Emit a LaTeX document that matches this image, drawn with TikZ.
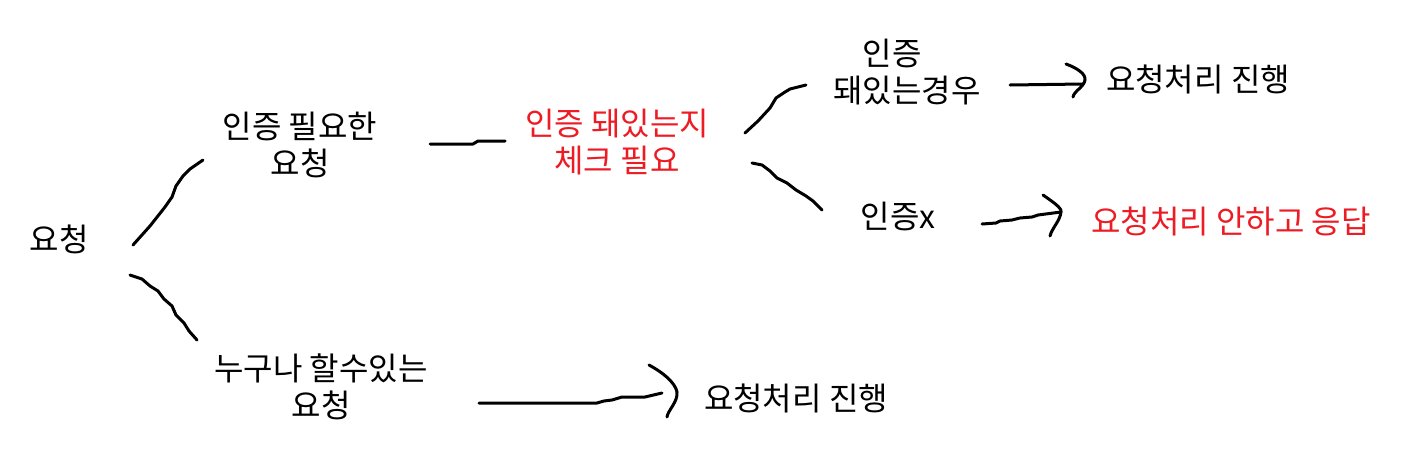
\documentclass[tikz,border=0pt]{standalone}
\usepackage{fontspec}
\setmainfont{Noto Sans CJK KR}
\definecolor{pred}{RGB}{237,28,36}
\begin{document}
\begin{tikzpicture}[x=1pt,y=-1pt,
  lbl/.style={font=\fontsize{32}{37}\selectfont, align=center, inner sep=0pt},
  rlbl/.style={lbl, text=pred},
  stroke/.style={line width=3pt, line cap=round, line join=round}]
\useasboundingbox[fill=white] (0,0) rectangle (1405,461);

% labels
\node[lbl]  (req)    at (59,239)   {요청};
\node[lbl]  (auth)   at (300,145)  {인증 필요한\\요청};
\node[rlbl] (check)  at (617,142)  {인증 돼있는지\\체크 필요};
\node[lbl]  (yes)    at (907,72)   {인증\hspace*{30pt}\\돼있는경우};
\node[lbl]  (proc1)  at (1198,79)  {요청처리 진행};
\node[lbl]  (no)     at (898,216)  {인증x};
\node[rlbl] (reject) at (1231,221) {요청처리 안하고 응답};
\node[lbl]  (anyone) at (321,387)  {누구나 할수있는\\요청};
\node[lbl]  (proc2)  at (796,398)  {요청처리 진행};

% connector end points
\coordinate (a1) at (133,245); \coordinate (a2) at (203,160);
\coordinate (b1) at (130,275); \coordinate (b2) at (197,340);
\coordinate (c1) at (430,144); \coordinate (c2) at (505,141);
\coordinate (d1) at (745,133); \coordinate (d2) at (806,85);
\coordinate (f1) at (752,163); \coordinate (f2) at (822,210);
\coordinate (g1) at (1010,85); \coordinate (t1) at (1085,80);
\coordinate (h1) at (982,224); \coordinate (t2) at (1061,212);
\coordinate (k1) at (479,403); \coordinate (t3) at (677,392);

% branches
\draw[stroke] (a1) -- (150,226) -- (165,207) -- (172,197) -- (176,186) -- (183,176) -- (190,169) -- (a2);
\draw[stroke] (b1) -- (142,279) -- (150,286) -- (158,291) -- (164,299) -- (172,306) -- (176,315) -- (184,323) -- (189,331) -- (b2);
\draw[stroke] (c1) -- (473,144) -- (478,141) -- (c2);
\draw[stroke] (d1) -- (758,121) -- (770,108) -- (776,98) -- (785,92) -- (790,89) -- (798,87) -- (d2);
\draw[stroke] (f1) -- (762,165) -- (770,171) -- (777,178) -- (787,183) -- (796,190) -- (806,196) -- (813,201) -- (f2);

% arrow 1
\draw[stroke] (g1) -- ([shift={(-2,4)}]t1);
\draw[stroke] ([shift={(-19,-16)}]t1) .. controls ([shift={(-8,-12)}]t1) and ([shift={(1,-6)}]t1) .. (t1)
  .. controls ([shift={(-1,7)}]t1) and ([shift={(-11,11)}]t1) .. ([shift={(-12,17)}]t1);
% arrow 2
\draw[stroke] (h1) -- (996,223) -- (1000,221) -- (1012,220) -- (1020,218) -- (1032,217) -- (1038,215) -- (t2);
\draw[stroke] ([shift={(-18,-17)}]t2) .. controls ([shift={(-8,-10)}]t2) and ([shift={(1,-4)}]t2) .. (t2)
  .. controls ([shift={(-1,9)}]t2) and ([shift={(-9,16)}]t2) .. ([shift={(-11,24)}]t2);
% arrow 3
\draw[stroke] (k1) -- (597,403) -- (604,401) -- (612,400) -- (622,397) -- (645,397) -- ([shift={(-15,1)}]t3);
\draw[stroke] ([shift={(-28,-27)}]t3) .. controls ([shift={(-15,-20)}]t3) and ([shift={(-2,-10)}]t3) .. (t3)
  .. controls ([shift={(1,10)}]t3) and ([shift={(-9,18)}]t3) .. ([shift={(-10,25)}]t3);
\end{tikzpicture}
\end{document}
